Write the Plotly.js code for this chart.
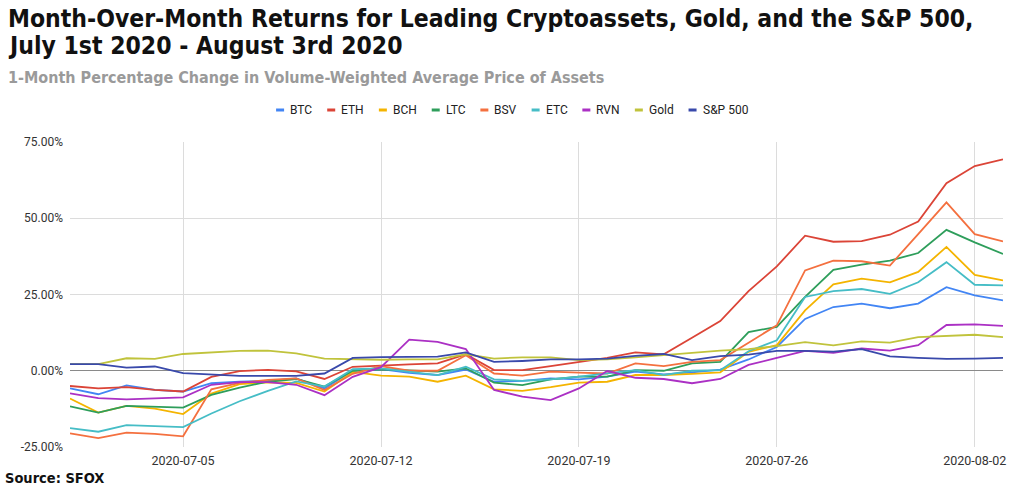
<!DOCTYPE html>
<html>
<head>
<meta charset="utf-8">
<script src="https://cdn.plot.ly/plotly-3.0.1.min.js"></script>
<style>
  html, body { margin: 0; padding: 0; background: #fff; }
  #chart { width: 1024px; height: 487px; }
</style>
</head>
<body>
<div id="chart"></div>
<script>
// Daily dates, 2020-07-01 .. 2020-08-03
const dates = [
  '2020-07-01','2020-07-02','2020-07-03','2020-07-04','2020-07-05','2020-07-06','2020-07-07',
  '2020-07-08','2020-07-09','2020-07-10','2020-07-11','2020-07-12','2020-07-13','2020-07-14',
  '2020-07-15','2020-07-16','2020-07-17','2020-07-18','2020-07-19','2020-07-20','2020-07-21',
  '2020-07-22','2020-07-23','2020-07-24','2020-07-25','2020-07-26','2020-07-27','2020-07-28',
  '2020-07-29','2020-07-30','2020-07-31','2020-08-01','2020-08-02','2020-08-03'
];

// 1-month % change in VWAP
const btc = [-5.8,-7.7,-4.8,-6.3,-6.8,-4.1,-3.6,-3.3,-2.5,-5.8,0.0,0.5,-0.7,-1.4,0.4,-3.6,-3.3,-2.5,-2.8,-1.9,-0.3,-1.2,-0.5,0.4,3.7,7.8,17.0,20.9,22.0,20.5,22.0,27.4,24.7,23.1];
const eth = [-5.0,-5.8,-5.4,-6.3,-6.8,-2.0,-0.1,0.3,-0.2,-2.7,1.3,1.8,2.1,2.4,5.4,0.2,0.2,1.5,2.9,4.2,6.0,5.4,10.8,16.3,26.1,34.2,44.3,42.3,42.5,44.6,48.9,61.5,67.1,69.3];
const bch = [-9.1,-13.7,-11.5,-12.4,-14.2,-7.5,-4.4,-3.8,-4.0,-6.8,-0.4,-1.6,-1.9,-3.6,-1.6,-6.1,-6.6,-5.4,-3.9,-3.6,-1.4,-1.4,-1.0,-0.5,6.2,8.4,19.8,28.3,30.2,29.0,32.4,40.6,31.4,29.6];
const ltc = [-11.7,-13.7,-11.5,-11.7,-12.1,-7.9,-5.5,-3.6,-2.7,-5.2,0.0,0.5,0.2,-0.3,0.8,-3.9,-4.7,-2.8,-1.9,-1.9,0.2,0.0,2.4,2.9,12.7,14.4,24.2,33.1,34.8,36.1,38.6,46.2,42.1,38.3];
const bsv = [-20.5,-22.1,-20.3,-20.7,-21.5,-6.1,-4.0,-3.0,-2.5,-6.3,-1.0,1.5,0.0,0.0,5.1,-0.9,-1.6,-0.3,-0.6,-0.9,2.4,1.5,2.9,3.5,9.2,14.9,32.9,36.1,35.9,34.5,44.8,55.2,44.8,42.4];
const etc = [-18.8,-20.0,-17.8,-18.1,-18.5,-14.0,-10.0,-6.6,-3.5,-5.2,0.5,0.8,-0.3,-1.4,1.3,-2.8,-3.3,-2.8,-1.9,-0.9,0.2,-1.4,0.0,0.2,6.4,10.0,24.2,26.1,26.8,25.2,29.0,35.6,28.2,28.0];
const rvn = [-7.4,-9.0,-9.4,-9.0,-8.7,-4.6,-3.7,-3.7,-4.6,-8.0,-2.0,1.2,10.2,9.5,7.1,-6.3,-8.5,-9.6,-5.8,-0.1,-2.3,-2.7,-4.1,-2.7,1.9,4.2,6.5,5.9,7.3,6.6,8.4,15.0,15.2,14.7];
const gold = [2.2,2.2,4.1,3.9,5.5,5.9,6.5,6.6,5.7,4.0,3.8,3.6,3.7,3.7,5.4,4.0,4.4,4.4,3.5,3.7,4.4,5.1,6.0,6.6,7.1,8.1,9.4,8.3,9.6,9.2,11.0,11.5,11.8,11.0];
const sp500 = [2.2,2.2,1.0,1.4,-0.8,-1.2,-1.7,-1.7,-1.7,-0.9,4.2,4.5,4.6,4.6,6.0,2.9,3.2,3.7,3.7,4.0,4.9,5.5,3.5,4.8,5.3,6.5,6.5,6.3,7.1,4.7,4.2,3.9,4.0,4.2];

const seriesNames = ['BTC','ETH','BCH','LTC','BSV','ETC','RVN','Gold','S&P 500'];
const seriesValues = [btc, eth, bch, ltc, bsv, etc, rvn, gold, sp500];
const seriesColors = ['#4285f4','#db4437','#f4b400','#2e9e5b','#f4703f','#46bdc6','#ab30c4','#c0c33c','#3949ab'];

const xTicks = ['2020-07-05','2020-07-12','2020-07-19','2020-07-26','2020-08-02'];
const yTicks = [-25, 0, 25, 50, 75];

const W = 1024, H = 487;
const M = { l: 70, r: 21, t: 142, b: 40 };
const plotW = W - M.l - M.r, plotH = H - M.t - M.b;
// pixel -> paper helpers for page furniture (titles, legend)
const px = v => (v - M.l) / plotW;
const py = v => (H - M.b - v) / plotH;

const traces = seriesNames.map((name, k) => ({
  type: 'scatter', mode: 'lines', name,
  x: dates, y: seriesValues[k],
  line: { color: seriesColors[k], width: 1.8 },
  showlegend: false,
  hoverinfo: 'x+y+name'
}));

const titleFamily = '"Liberation Sans Narrow", "DejaVu Sans Condensed", Roboto, sans-serif';
const titleFont = { family: titleFamily, size: 24.5, color: '#111' };

const annotations = [
  { text: '<b>Month-Over-Month Returns for Leading Cryptoassets, Gold, and the S&amp;P 500,</b>', xref: 'paper', yref: 'paper', x: px(6), y: py(18.5), xanchor: 'left', yanchor: 'middle', showarrow: false, font: titleFont },
  { text: '<b>July 1st 2020 - August 3rd 2020</b>', xref: 'paper', yref: 'paper', x: px(6), y: py(45.5), xanchor: 'left', yanchor: 'middle', showarrow: false, font: titleFont },
  { text: '<b>1-Month Percentage Change in Volume-Weighted Average Price of Assets</b>', xref: 'paper', yref: 'paper', x: px(6), y: py(77.5), xanchor: 'left', yanchor: 'middle', showarrow: false,
    font: { family: titleFamily, size: 16, color: '#9a9a9a' } },
  { text: '<b>Source: SFOX</b>', xref: 'paper', yref: 'paper', x: px(3), y: py(478), xanchor: 'left', yanchor: 'middle', showarrow: false,
    font: { family: titleFamily, size: 14.5, color: '#111' } }
];

// Compact legend: short colour dash followed by the series name, centred above the plot
const legFont = '12px Roboto';
const ctx = document.createElement('canvas').getContext('2d');
ctx.font = legFont;
const dashW = 8, dashGap = 6, itemGap = 15;
const widths = seriesNames.map(n => ctx.measureText(n).width);
const total = widths.reduce((a, w) => a + dashW + dashGap + w, 0) + itemGap * (seriesNames.length - 1);
let cx = W / 2 - total / 2;
const legY = 110;
const shapes = [];
seriesNames.forEach((n, k) => {
  shapes.push({ type: 'line', xref: 'paper', yref: 'paper', x0: px(cx), x1: px(cx + dashW), y0: py(legY), y1: py(legY),
    line: { color: seriesColors[k], width: 3 } });
  annotations.push({ text: n.replace('&', '&amp;'), xref: 'paper', yref: 'paper', x: px(cx + dashW + dashGap), y: py(legY),
    xanchor: 'left', yanchor: 'middle', showarrow: false, xshift: -2,
    font: { family: 'Roboto, sans-serif', size: 12, color: '#222' } });
  cx += dashW + dashGap + widths[k] + itemGap;
});

const layout = {
  width: W, height: H,
  margin: M,
  paper_bgcolor: '#fff', plot_bgcolor: '#fff',
  showlegend: false,
  xaxis: {
    type: 'date', range: [dates[0], dates[dates.length - 1]],
    tickvals: xTicks, ticktext: xTicks,
    showgrid: true, gridcolor: '#dcdcdc', gridwidth: 1,
    zeroline: false, showline: false, ticks: '',
    ticklabelstandoff: 4,
    tickfont: { family: 'Roboto, sans-serif', size: 12.5, color: '#333' }
  },
  yaxis: {
    range: [-25, 75], tickvals: yTicks,
    ticktext: yTicks.map(v => v.toFixed(2) + '%'),
    showgrid: true, gridcolor: '#dcdcdc', gridwidth: 1,
    zeroline: true, zerolinecolor: '#8a8a8a', zerolinewidth: 1,
    showline: false, ticks: '',
    ticklabelstandoff: 6,
    tickfont: { family: 'Roboto, sans-serif', size: 12, color: '#333' }
  },
  annotations, shapes
};

Plotly.newPlot('chart', traces, layout, { displayModeBar: false, staticPlot: true });
</script>
</body>
</html>
